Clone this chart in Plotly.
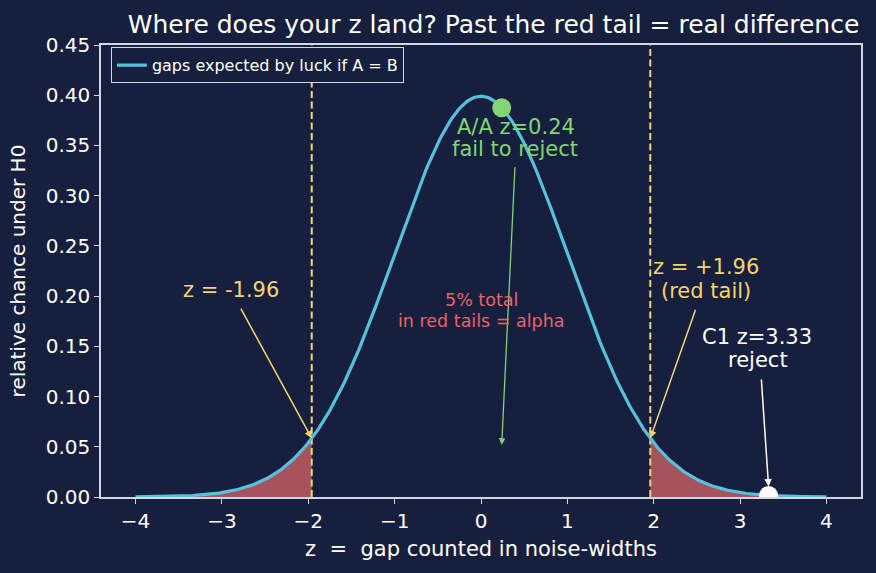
import numpy as np
import plotly.graph_objects as go

# ---- data ----
z_min, z_max = -4.0, 4.0
z_crit = 1.96
aa_z = 0.24
c1_z = 3.33
x_ticks = [-4, -3, -2, -1, 0, 1, 2, 3, 4]
y_ticks = [0.00, 0.05, 0.10, 0.15, 0.20, 0.25, 0.30, 0.35, 0.40, 0.45]

def pdf(v):
    v = np.asarray(v, dtype=float)
    return np.exp(-0.5 * v ** 2) / np.sqrt(2 * np.pi)

z = np.linspace(z_min, z_max, 401)
dens = pdf(z)
zl = np.append(z[z <= -z_crit], -z_crit)
zr = np.insert(z[z >= z_crit], 0, z_crit)

BG = "#161f3d"
AX = "#cfd6e4"
CURVE = "#56c1dd"
RED = "#a6535d"
YEL = "#f3d36c"
GRN = "#82d574"
REDTXT = "#e8636c"
FONT = "DejaVu Sans"

fig = go.Figure()
fig.add_trace(go.Scatter(x=zl, y=pdf(zl), fill="tozeroy", fillcolor=RED, line=dict(width=0),
                         mode="lines", showlegend=False, hoverinfo="skip"))
fig.add_trace(go.Scatter(x=zr, y=pdf(zr), fill="tozeroy", fillcolor=RED, line=dict(width=0),
                         mode="lines", showlegend=False, hoverinfo="skip"))
for xc in (-z_crit, z_crit):
    fig.add_trace(go.Scatter(x=[xc, xc], y=[0, 0.45], mode="lines",
                             line=dict(color=YEL, width=2, dash="7px,3.5px"),
                             showlegend=False, hoverinfo="skip"))
fig.add_trace(go.Scatter(x=z, y=dens, mode="lines", line=dict(color=CURVE, width=3.2),
                         name="gaps expected by luck if A = B"))
fig.add_trace(go.Scatter(x=[aa_z], y=pdf([aa_z]), mode="markers",
                         marker=dict(color=GRN, size=19), showlegend=False))
fig.add_trace(go.Scatter(x=[c1_z], y=pdf([c1_z]), mode="markers",
                         marker=dict(color="white", size=19), showlegend=False))

def arrow(x, y, ax, ay, color, w=1.5):
    fig.add_annotation(text="", x=x, y=y, ax=ax, ay=ay, xref="x", yref="y",
                       axref="x", ayref="y", showarrow=True, arrowhead=2, arrowsize=1,
                       arrowwidth=w, arrowcolor=color)

def label(text, x, y, color, size=21):
    fig.add_annotation(text=text, x=x, y=y, xref="x", yref="y", showarrow=False,
                       font=dict(color=color, size=size, family=FONT))

arrow(-z_crit, float(pdf(-z_crit)), -2.79, 0.189, YEL)
label("z = -1.96", -2.90, 0.206, YEL)

arrow(z_crit, float(pdf(z_crit)), 2.49, 0.188, YEL)
label("z = +1.96", 2.60, 0.229, YEL)
label("(red tail)", 2.61, 0.205, YEL)

arrow(aa_z, 0.052, 0.394, 0.330, GRN, 1.3)
label("A/A z=0.24", 0.405, 0.368, GRN)
label("fail to reject", 0.394, 0.346, GRN)

arrow(c1_z, 0.0105, 3.245, 0.1185, "white")
label("C1 z=3.33", 3.20, 0.159, "white")
label("reject", 3.21, 0.136, "white")

label("5% total", 0.01, 0.196, REDTXT, 17.5)
label("in red tails = alpha", 0.01, 0.175, REDTXT, 17.5)

fig.update_layout(
    width=876, height=573,
    paper_bgcolor=BG, plot_bgcolor=BG,
    margin=dict(l=101, r=15, t=45, b=76),
    font=dict(family=FONT, color="white", size=20),
    title=dict(text="Where does your z land? Past the red tail = real difference",
               x=0.5634, xanchor="center", y=0.958, yanchor="middle",
               font=dict(size=25, color="white", family=FONT)),
    showlegend=True,
    legend=dict(x=0.013, y=0.995, xanchor="left", yanchor="top",
                bgcolor=BG, bordercolor=AX, borderwidth=1,
                font=dict(size=16, color="white", family=FONT)),
)
fig.update_xaxes(range=[-4.4, 4.4], tickvals=x_ticks, showgrid=False, zeroline=False,
                 showline=True, linecolor=AX, linewidth=1.5, mirror=True,
                 ticks="outside", ticklen=5, tickcolor=AX,
                 tickfont=dict(size=20, color="white"),
                 title=dict(text="z  =  gap counted in noise-widths", standoff=10,
                            font=dict(size=21, color="white")))
fig.update_yaxes(range=[0, 0.45], tickvals=y_ticks, tickformat=".2f", showgrid=False, zeroline=False,
                 showline=True, linecolor=AX, linewidth=1.5, mirror=True,
                 ticks="outside", ticklen=5, tickcolor=AX,
                 tickfont=dict(size=20, color="white"),
                 title=dict(text="relative chance under H0", font=dict(size=20, color="white")))

fig.write_html("out.html")
